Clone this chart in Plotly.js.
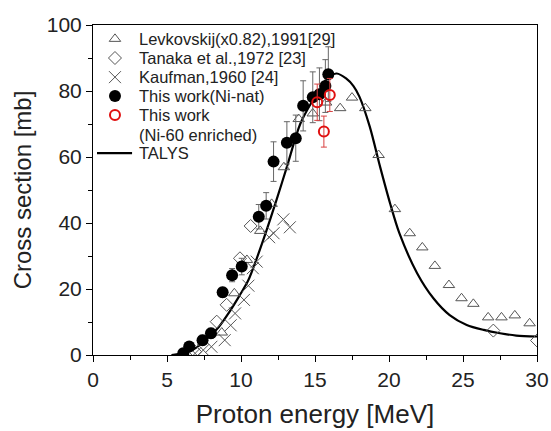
<!DOCTYPE html>
<html>
<head>
<meta charset="utf-8">
<script src="https://cdn.plot.ly/plotly-3.0.1.min.js"></script>
<style>html,body{margin:0;padding:0;background:#fff;}#chart{width:551px;height:431px;}</style>
</head>
<body>
<div id="chart"></div>
<script>
// Levkovskij (x0.82), 1991
var levX = [8.7, 9.55, 10.4, 11.3, 12.07, 12.9, 13.9, 14.85, 15.75, 16.7, 17.5, 18.4, 19.3, 20.4, 21.4, 22.25, 23.1, 24.05, 24.9, 25.7, 26.7, 27.6, 28.5, 29.5];
var levY = [6.8, 18.7, 28.8, 37.6, 45.8, 56.9, 71.5, 73.2, 76.5, 74.8, 78.0, 74.8, 60.6, 44.2, 36.9, 32.6, 27.0, 21.2, 17.2, 15.5, 11.4, 11.4, 12.0, 9.6];
// Tanaka et al., 1972
var tanX = [6.9, 8.36, 9.03, 9.93, 10.65, 27.05, 30.0];
var tanY = [1.0, 10.1, 15.2, 29.3, 39.1, 7.4, 4.4];
// Kaufman, 1960
var kauX = [6.9, 7.45, 8.0, 8.9, 9.3, 9.6, 10.2, 10.5, 10.8, 11.06, 11.9, 12.2, 12.86, 13.3];
var kauY = [0.5, 1.5, 2.5, 4.5, 9.0, 12.6, 16.7, 21.0, 26.3, 28.3, 35.7, 36.9, 41.1, 38.7];
// This work (Ni-nat)
var natX = [6.1, 6.5, 7.4, 7.97, 8.76, 9.4, 10.05, 11.2, 11.7, 12.2, 13.1, 13.7, 14.2, 14.85, 15.3, 15.7, 15.9];
var natY = [0.5, 2.6, 4.5, 6.6, 19.0, 24.2, 26.8, 41.9, 45.2, 58.6, 64.3, 65.7, 75.5, 78.1, 79.0, 81.5, 85.1];
var natErr = [0.5, 1.0, 1.5, 1.5, 1.5, 2.0, 2.5, 3.7, 4.0, 6.0, 6.4, 7.0, 7.6, 7.7, 8.0, 8.0, 8.3];
// This work (Ni-60 enriched)
var enrX = [15.15, 15.6, 16.0];
var enrY = [76.6, 67.7, 78.8];
var enrErr = [5.5, 4.7, 5.0];
// TALYS
var talX = [5.3, 6.0, 6.5, 7.0, 7.8, 8.5, 9.15, 9.9, 10.5, 11.5, 12.4, 13.1, 14.0, 14.8, 15.4, 15.9, 16.47, 17.1, 17.6, 18.0, 18.7, 19.4, 20.07, 20.7, 21.9, 23.0, 24.1, 25.25, 26.4, 27.5, 28.6, 30.0];
var talY = [0, 0.4, 1.0, 2.3, 5.3, 8.5, 12.6, 18.0, 22.7, 34.8, 47.0, 57.0, 70.0, 76.8, 81.0, 84.3, 85.3, 83.8, 81.5, 78.3, 69.2, 57.0, 46.0, 36.9, 24.8, 17.2, 12.1, 9.1, 7.6, 6.6, 5.9, 5.6];

// Legend labels
var legendLabels = ['Levkovskij(x0.82),1991[29]', 'Tanaka et al.,1972 [23]', 'Kaufman,1960 [24]', 'This work(Ni-nat)', 'This work', '(Ni-60 enriched)', 'TALYS'];

var gray = '#555555';
var red = '#e01010';
var styles = {
  lev: {symbol: 'triangle-up-open', size: 10, color: gray, line: {width: 1, color: gray}},
  tan: {symbol: 'diamond-open', size: 10, color: gray, line: {width: 1, color: gray}},
  kau: {symbol: 'x-thin-open', size: 12, color: gray, line: {width: 1, color: gray}},
  nat: {symbol: 'circle', size: 12, color: '#000'},
  enr: {symbol: 'circle-open', size: 10, color: red, line: {width: 2, color: red}}
};

var traces = [
  {x: talX, y: talY, mode: 'lines', line: {color: '#000', width: 2.2, shape: 'spline', smoothing: 0.8}},
  {x: levX, y: levY, mode: 'markers', marker: styles.lev},
  {x: tanX, y: tanY, mode: 'markers', marker: styles.tan},
  {x: kauX, y: kauY, mode: 'markers', marker: styles.kau},
  {x: natX, y: natY, mode: 'markers',
   error_y: {type: 'data', array: natErr, visible: true, color: '#666', thickness: 1, width: 3},
   marker: styles.nat},
  {x: enrX, y: enrY, mode: 'markers',
   error_y: {type: 'data', array: enrErr, visible: true, color: '#d84040', thickness: 1, width: 3},
   marker: styles.enr}
];

// Custom legend (plot-area fraction coordinates on hidden overlay axes)
var rowY = [0.958, 0.900, 0.842, 0.785, 0.727, 0.667, 0.612];
var symX = 0.0495, textX = 0.099;
var symOrder = ['lev', 'tan', 'kau', 'nat', 'enr'];
symOrder.forEach(function (k, i) {
  traces.push({x: [symX], y: [rowY[i]], xaxis: 'x2', yaxis: 'y2', mode: 'markers',
               marker: styles[k], cliponaxis: false, hoverinfo: 'skip'});
});
traces.push({x: [0.009, 0.088], y: [rowY[6], rowY[6]], xaxis: 'x2', yaxis: 'y2', mode: 'lines',
             line: {color: '#000', width: 2.2}, cliponaxis: false, hoverinfo: 'skip'});

var font = {family: 'Liberation Sans, Arial, sans-serif', color: '#222'};
var annotations = legendLabels.map(function (t, i) {
  return {text: t, xref: 'x2', yref: 'y2', x: textX, y: rowY[i], xanchor: 'left', yanchor: 'middle',
          showarrow: false, font: {family: font.family, size: 16.5, color: '#222'}};
});

var layout = {
  width: 551, height: 431,
  margin: {l: 93, r: 14, t: 25, b: 76},
  paper_bgcolor: '#fff', plot_bgcolor: '#fff',
  font: font,
  showlegend: false,
  annotations: annotations,
  xaxis: {
    range: [0, 30], tickvals: [0, 5, 10, 15, 20, 25, 30],
    ticks: 'outside', ticklen: 6, tickcolor: '#000',
    minor: {tickvals: [2.5, 7.5, 12.5, 17.5, 22.5, 27.5], ticks: 'outside', ticklen: 4, tickcolor: '#000'},
    showline: true, linecolor: '#000', linewidth: 1, mirror: true,
    showgrid: false, zeroline: false,
    tickfont: {family: font.family, size: 21, color: '#222'},
    title: {text: 'Proton energy [MeV]', font: {family: font.family, size: 26, color: '#222'}, standoff: 14}
  },
  yaxis: {
    range: [0, 100], tickvals: [0, 20, 40, 60, 80, 100],
    ticks: 'outside', ticklen: 6, tickcolor: '#000',
    minor: {tickvals: [10, 30, 50, 70, 90], ticks: 'outside', ticklen: 4, tickcolor: '#000'},
    showline: true, linecolor: '#000', linewidth: 1, mirror: true,
    showgrid: false, zeroline: false,
    tickfont: {family: font.family, size: 21, color: '#222'},
    title: {text: 'Cross section [mb]', font: {family: font.family, size: 24, color: '#222'}, standoff: 8}
  },
  xaxis2: {overlaying: 'x', range: [0, 1], visible: false, fixedrange: true},
  yaxis2: {overlaying: 'y', range: [0, 1], visible: false, fixedrange: true}
};
Plotly.newPlot('chart', traces, layout, {staticPlot: true, displayModeBar: false});
</script>
</body>
</html>
